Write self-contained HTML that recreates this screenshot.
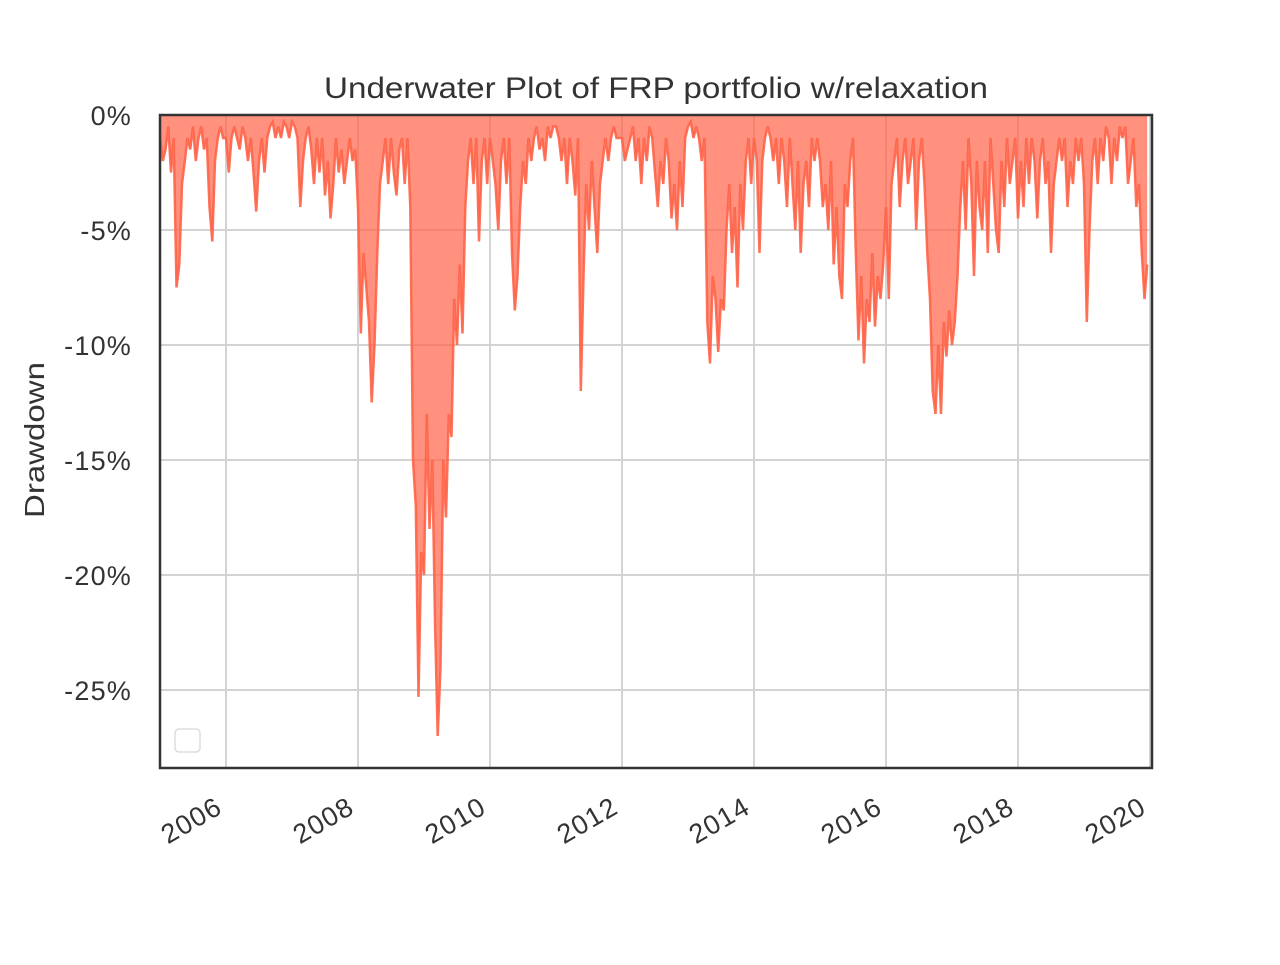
<!DOCTYPE html>
<html><head><meta charset="utf-8"><style>
body{margin:0;background:#fff;}
svg text{font-family:"Liberation Sans",sans-serif;fill:#333;}
</style></head><body>
<svg id="chart" width="1280" height="960" xmlns="http://www.w3.org/2000/svg">
<text x="324" y="98" font-size="30" textLength="664" lengthAdjust="spacingAndGlyphs">Underwater Plot of FRP portfolio w/relaxation</text>
<text transform="translate(44,518) rotate(-90)" font-size="28" textLength="156" lengthAdjust="spacingAndGlyphs">Drawdown</text>
<g id="grid"></g><g id="series"></g><g id="ticks"></g>
<rect x="160" y="115" width="992" height="653" fill="none" stroke="#333" stroke-width="2.5"/>
<rect x="175" y="729" width="25" height="23" rx="4" fill="#fff" stroke="#ddd" stroke-width="1.5"/>
</svg>
<script>
const yTicks=[0,-5,-10,-15,-20,-25];
const yTickLabels=["0%","-5%","-10%","-15%","-20%","-25%"];
const xTicks=[2006,2008,2010,2012,2014,2016,2018,2020];
const startYear=2005;
const pointsPerYear=24;
const drawdown=[
-1,-2,-1.5,-0.5,-2.5,-1,-7.5,-6.5,-3,-2,-1,-1.5,-0.5,-2,-1,-0.5,-1.5,-1,-4,-5.5,-2,-1,-0.5,-1,
-1,-2.5,-1,-0.5,-1,-1.5,-0.5,-1,-2,-1,-2.5,-4.2,-2,-1,-2.5,-1,-0.5,-0.3,-1,-0.5,-1,-0.3,-0.5,-1,
-0.3,-0.5,-1,-4,-2,-1,-0.5,-1.5,-3,-1,-2.5,-1,-3.5,-2,-4.5,-3,-1,-2.5,-1.5,-3,-2,-1,-2,-1.5,
-4,-9.5,-6,-7.5,-9,-12.5,-10,-6,-3,-2,-1,-3,-1,-2.5,-3.5,-1.5,-1,-3,-1,-4,-15,-17,-25.3,-19,
-20,-13,-18,-15,-22,-27,-24,-15,-17.5,-13,-14,-8,-10,-6.5,-9.5,-4,-2,-1,-3,-1,-5.5,-2,-1,-3,
-1,-2,-3,-5,-2,-1,-3,-1,-6,-8.5,-7,-4,-2,-3,-1,-2,-1,-0.5,-1.5,-1,-2,-0.5,-1,-0.5,
-0.5,-1,-2,-1,-3,-1,-2,-3.5,-1,-12,-7,-3,-5,-2,-4,-6,-3,-2,-1,-2,-1,-0.5,-1,-1,
-1,-2,-1.5,-1,-0.5,-2,-1,-3,-1,-2,-0.5,-1,-2.5,-4,-2,-3,-1,-2,-4.5,-3,-5,-2,-4,-1,
-0.5,-0.3,-1,-0.5,-1,-2,-1,-9,-10.8,-7,-8,-10.3,-8,-8.5,-5,-3,-6,-4,-7.5,-3,-5,-2,-1,-3,
-1,-2,-6,-2,-1,-0.5,-1,-2,-1,-3,-1,-2,-4,-1,-3,-5,-2,-6,-3,-2,-4,-1,-2,-1,
-2,-4,-3,-5,-2,-6.5,-4,-7,-8,-3,-4,-2,-1,-6,-9.8,-7,-10.8,-8,-9,-6,-9.2,-7,-8,-6.5,
-4,-8,-3,-2,-1,-4,-2,-1,-3,-2,-1,-5,-2,-1,-3,-6,-8,-12,-13,-10,-13,-9,-10.5,-8.5,
-10,-9,-7,-4,-2,-5,-1,-3,-7,-2,-4,-5,-2,-6,-1,-3,-5,-6,-2,-4,-1,-3,-2,-1,
-4.5,-2,-4,-1,-3,-1,-2,-4.5,-2,-1,-3,-2,-6,-3,-2,-1,-2,-1,-4,-2,-3,-1,-2,-1,
-3,-9,-5,-2,-1,-3,-1,-2,-0.5,-1,-3,-1,-2,-0.5,-1,-0.5,-3,-2,-1,-4,-3,-6,-8,-6.5
];
const NS="http://www.w3.org/2000/svg";
function xs(yr){return 160+(yr-2005)*66;}
function ys(v){return 115-v*23;}
function mk(t,a,p){const e=document.createElementNS(NS,t);for(const k in a)e.setAttribute(k,a[k]);p.appendChild(e);return e;}
const grid=document.getElementById('grid'),ser=document.getElementById('series'),tk=document.getElementById('ticks');
yTicks.forEach((v,i)=>{
 const l=mk('line',{x1:160,x2:1152,y1:ys(v),y2:ys(v),stroke:'#d3d3d3','stroke-width':2},grid);
 
 
 const t=mk('text',{x:132,y:ys(v)+10,'font-size':27,'letter-spacing':1.2,'text-anchor':'end'},tk);
 t.textContent=yTickLabels[i];
 
 
});
xTicks.forEach(yr=>{
 const l=mk('line',{x1:xs(yr),x2:xs(yr),y1:115,y2:768,stroke:'#d3d3d3','stroke-width':2},grid);
 
 
 const t=mk('text',{transform:`translate(${xs(yr)-2},${812}) rotate(-30)`,'font-size':27,'letter-spacing':1.2,'text-anchor':'end'},tk);
 t.textContent=String(yr);
 
 
});
let pts=drawdown.map((v,i)=>[xs(startYear+i/pointsPerYear),ys(v)]);
const lineD='M'+pts.map(p=>p[0].toFixed(1)+','+p[1].toFixed(1)).join('L');
const areaD=lineD+`L${pts[pts.length-1][0].toFixed(1)},115L${pts[0][0].toFixed(1)},115Z`;
const a=mk('path',{d:areaD,fill:'#ff6347','fill-opacity':0.7,stroke:'none'},ser);


const ln=mk('path',{d:lineD,fill:'none',stroke:'#ff6347','stroke-opacity':0.9,'stroke-width':2.5},ser);


</script>
</body></html>
